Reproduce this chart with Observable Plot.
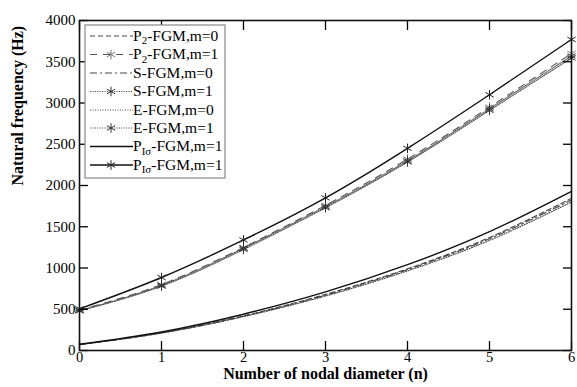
<!DOCTYPE html>
<html>
<head>
<meta charset="utf-8">
<script src="https://cdn.jsdelivr.net/npm/d3@7"></script>
<script src="https://cdn.jsdelivr.net/npm/@observablehq/plot@0.6"></script>
<style>
  html, body { margin: 0; padding: 0; background: white; }
  #chart { width: 577px; height: 387px; }
</style>
</head>
<body>
<div id="chart"></div>
<script>
// ---- data ----
const n = [0, 1, 2, 3, 4, 5, 6];
const xTicks = [0, 1, 2, 3, 4, 5, 6];
const yTicks = [0, 500, 1000, 1500, 2000, 2500, 3000, 3500, 4000];

const seriesNames = ["P2-FGM,m=0", "P2-FGM,m=1", "S-FGM,m=0", "S-FGM,m=1",
                     "E-FGM,m=0", "E-FGM,m=1", "Plσ-FGM,m=0", "Plσ-FGM,m=1"];
const p2m0 = [72, 215, 420, 680, 990, 1370, 1845];
const p2m1 = [490, 800, 1250, 1760, 2320, 2950, 3600];
const sm0  = [72, 213, 415, 670, 980, 1355, 1825];
const sm1  = [485, 790, 1240, 1745, 2300, 2930, 3570];
const em0  = [70, 210, 410, 660, 965, 1335, 1800];
const em1  = [480, 780, 1225, 1730, 2285, 2910, 3545];
const plm0 = [75, 225, 440, 710, 1040, 1440, 1930];
const plm1 = [505, 885, 1340, 1850, 2450, 3100, 3770];
const seriesValues = [p2m0, p2m1, sm0, sm1, em0, em1, plm0, plm1];

// legend text parts: [main, subscript, rest]
const legendParts = [
  ["P", "2", "-FGM,m=0"], ["P", "2", "-FGM,m=1"], ["S-FGM,m=0", "", ""], ["S-FGM,m=1", "", ""],
  ["E-FGM,m=0", "", ""], ["E-FGM,m=1", "", ""], ["P", "Iσ", "-FGM,m=1"], ["P", "Iσ", "-FGM,m=1"]
];

// ---- styles ----
const styles = [
  {stroke: "#444", dash: "5,3", width: 1.1, marker: false},
  {stroke: "#555", dash: "7,6", width: 1.1, marker: true, mstroke: "#777"},
  {stroke: "#444", dash: "7,3,2,3", width: 1.1, marker: false},
  {stroke: "#555", dash: "1.2,1.2", width: 1.1, marker: true, mstroke: "#333"},
  {stroke: "#444", dash: "1,1.5", width: 1.1, marker: false},
  {stroke: "#555", dash: "1.2,1.2", width: 1.1, marker: true, mstroke: "#333"},
  {stroke: "#111", dash: null, width: 1.4, marker: false},
  {stroke: "#111", dash: null, width: 1.4, marker: true, mstroke: "#222"}
];

const rows = [];
seriesNames.forEach((s, i) => n.forEach((x, j) => rows.push({series: s, idx: i, n: x, f: seriesValues[i][j]})));

const marks = [];
styles.forEach((st, i) => {
  const data = rows.filter(r => r.idx === i);
  marks.push(Plot.line(data, {x: "n", y: "f", curve: "natural", stroke: st.stroke,
    strokeWidth: st.width, strokeDasharray: st.dash}));
  if (st.marker) {
    marks.push(Plot.dot(data, {x: "n", y: "f", symbol: "asterisk", r: 4.5, stroke: st.mstroke, strokeWidth: 1}));
  }
});

const noLabel = () => "";
const chart = Plot.plot({
  width: 577, height: 387,
  marginLeft: 79, marginRight: 6, marginTop: 20, marginBottom: 37,
  style: {fontFamily: "'Liberation Serif', 'Times New Roman', serif", fontSize: "15px", background: "white", color: "black"},
  x: {domain: [0, 6]},
  y: {domain: [0, 4000]},
  marks: [
    ...marks,
    Plot.axisX(xTicks, {anchor: "bottom", tickSize: 0, tickPadding: 1, tickFormat: d3.format("d"), label: null, fontSize: 14.5}),
    Plot.axisX(xTicks, {anchor: "bottom", tickSize: -9, tickFormat: noLabel, label: null, strokeWidth: 1.3}),
    Plot.axisX(xTicks, {anchor: "top", tickSize: -9, tickFormat: noLabel, label: null, strokeWidth: 1.3}),
    Plot.axisY(yTicks, {anchor: "left", tickSize: 0, tickPadding: 4, tickFormat: d3.format("d"), label: null, fontSize: 15}),
    Plot.axisY(yTicks, {anchor: "left", tickSize: -9, tickFormat: noLabel, label: null, strokeWidth: 1.3}),
    Plot.axisY(yTicks, {anchor: "right", tickSize: -9, tickFormat: noLabel, label: null, strokeWidth: 1.3}),
    Plot.frame({stroke: "#111", strokeWidth: 1.6}),
    Plot.text(["Number of nodal diameter (n)"], {frameAnchor: "bottom", dy: 28.5, fontWeight: "bold", fontSize: 16}),
    Plot.text(["Natural frequency (Hz)"], {frameAnchor: "left", dx: -62, rotate: -90, fontWeight: "bold", fontSize: 16})
  ]
});
document.getElementById("chart").appendChild(chart);

// ---- legend ----
const svg = d3.select(chart);
const lg = svg.append("g").attr("font-family", "'Liberation Serif', 'Times New Roman', serif")
  .attr("font-size", 15.5).attr("text-anchor", "start");
lg.append("rect").attr("x", 85).attr("y", 25).attr("width", 140).attr("height", 153)
  .attr("fill", "white").attr("stroke", "#888").attr("stroke-width", 1.2);
const rowY = [36, 54.5, 73, 91.5, 110, 128, 146.5, 165];
const star = d3.symbol(d3.symbolAsterisk, 4.5 * 4.5 * Math.PI)();
legendParts.forEach((p, i) => {
  const st = styles[i];
  const y = rowY[i];
  lg.append("line").attr("x1", 90).attr("x2", 133).attr("y1", y).attr("y2", y)
    .attr("stroke", st.stroke).attr("stroke-width", st.width).attr("stroke-dasharray", st.dash);
  if (st.marker) {
    lg.append("path").attr("d", star).attr("transform", `translate(111,${y})`)
      .attr("fill", "none").attr("stroke", st.mstroke).attr("stroke-width", 1);
  }
  const t = lg.append("text").attr("x", 133).attr("y", y).attr("dy", "0.32em");
  t.append("tspan").text(p[0]);
  if (p[1]) {
    t.append("tspan").attr("font-size", 11).attr("dy", "0.3em").text(p[1]);
    t.append("tspan").attr("dy", "-0.22em").text(p[2]);
  }
});
</script>
</body>
</html>
